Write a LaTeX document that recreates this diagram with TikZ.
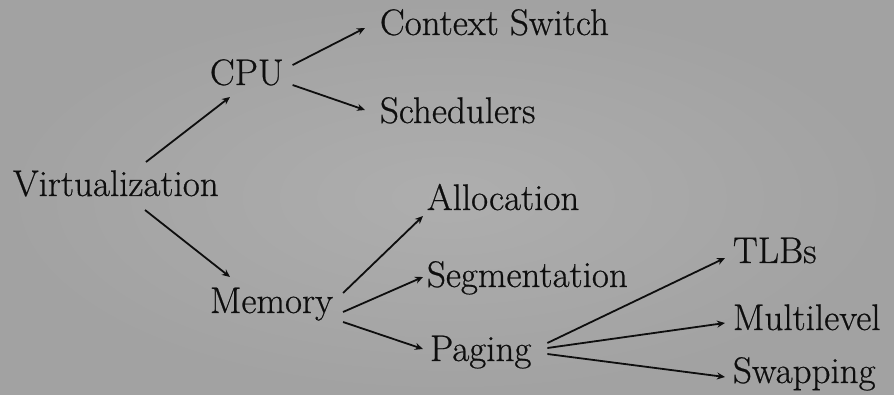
\documentclass[tikz,border=0pt]{standalone}
\usepackage{fontspec}
\usetikzlibrary{arrows.meta,calc}
\newfontfamily\topicfont{Latin Modern Roman}[FakeBold=0.6]
\definecolor{slate}{RGB}{174,174,174}
\definecolor{slatedark}{RGB}{162,162,162}
\definecolor{ink}{RGB}{14,14,14}
\begin{document}
\begin{tikzpicture}[x=1pt,y=-1pt,
  topic/.style={inner sep=0pt,outer sep=0pt,anchor=base west,text=ink,
    font=\topicfont\fontsize{37}{44}\selectfont},
  link/.style={draw=ink,line width=1.8pt,-{Stealth[length=8pt,width=7pt]}}]
  % backdrop
  \shade[inner color=slate,outer color=slatedark] (0,0) rectangle (894,395);
  \useasboundingbox (0,0) rectangle (894,395);

  % topics
  \node[topic] (virt) at (13,196) {Virtualization};
  \node[topic] (cpu)  at (210,85)  {CPU};
  \node[topic] (ctx)  at (380,35)  {Context Switch};
  \node[topic] (sch)  at (380,123) {Schedulers};
  \node[topic] (mem)  at (210,313) {Memory};
  \node[topic] (alloc) at (427,210) {Allocation};
  \node[topic] (seg)  at (427,287) {Segmentation};
  \node[topic] (pag)  at (430,361) {Paging};
  \node[topic] (tlb)  at (733,263) {TLBs};
  \node[topic] (multi) at (733,330) {Multilevel};
  \node[topic] (swap) at (733,383) {Swapping};

  % links
  \draw[link] ($(virt.base west)+(133,-34)$) -- ($(cpu.base west)+(20,12)$);
  \draw[link] ($(virt.base west)+(132,14)$) -- ($(mem.base west)+(20,-36)$);
  \draw[link] ($(cpu.base east)+(9,-20)$) -- ($(ctx.base west)+(-15,-7)$);
  \draw[link] ($(cpu.base east)+(9,0)$) -- ($(sch.base west)+(-15,-13)$);
  \draw[link] ($(mem.base east)+(10,-20)$) -- ($(alloc.base west)+(-4,6)$);
  \draw[link] ($(mem.base east)+(10,-1)$) -- ($(seg.base west)+(-4,-10)$);
  \draw[link] ($(mem.base east)+(10,9)$) -- ($(pag.base west)+(-7,-12)$);
  \draw[link] ($(pag.base east)+(16,-18)$) -- ($(tlb.base west)+(-8,-5)$);
  \draw[link] ($(pag.base east)+(16,-13)$) -- ($(multi.base west)+(-8,-7)$);
  \draw[link] ($(pag.base east)+(16,-7)$) -- ($(swap.base west)+(-8,-6)$);
\end{tikzpicture}
\end{document}
